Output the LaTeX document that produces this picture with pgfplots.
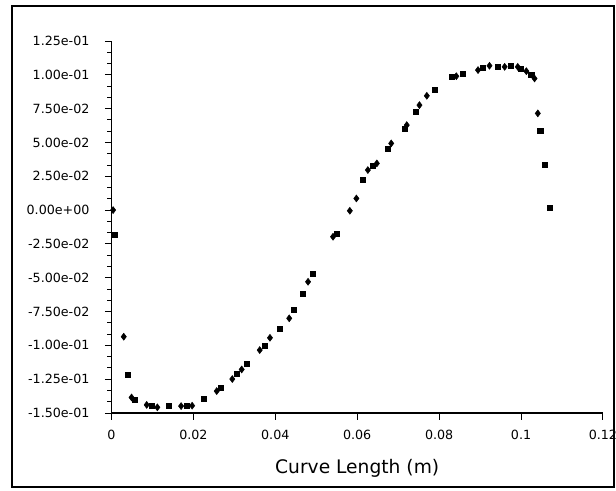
\documentclass[border=0pt]{standalone}
\usepackage{fontspec}
\setmainfont{DejaVu Sans}
\usepackage{pgfplots}
\pgfplotsset{compat=1.18}

% diamond markers
\pgfplotstableread{
x y
0.0004 0.0000
0.0030 -0.0936
0.0049 -0.1385
0.0086 -0.1440
0.0112 -0.1458
0.0170 -0.1449
0.0197 -0.1446
0.0257 -0.1338
0.0295 -0.1249
0.0318 -0.1178
0.0362 -0.1035
0.0387 -0.0944
0.0434 -0.0800
0.0480 -0.0530
0.0541 -0.0197
0.0582 -0.0005
0.0598 0.0086
0.0626 0.0296
0.0648 0.0345
0.0683 0.0493
0.0721 0.0628
0.0752 0.0776
0.0770 0.0845
0.0842 0.0990
0.0895 0.1035
0.0923 0.1067
0.0960 0.1059
0.0992 0.1059
0.1013 0.1027
0.1033 0.0973
0.1041 0.0715
}\diamonds

% square markers
\pgfplotstableread{
x y
0.0009 -0.0180
0.0040 -0.1220
0.0056 -0.1400
0.0098 -0.1449
0.0141 -0.1449
0.0183 -0.1449
0.0226 -0.1394
0.0267 -0.1310
0.0305 -0.1207
0.0330 -0.1133
0.0374 -0.1005
0.0411 -0.0874
0.0446 -0.0739
0.0468 -0.0616
0.0492 -0.0473
0.0549 -0.0172
0.0614 0.0222
0.0639 0.0325
0.0675 0.0456
0.0716 0.0604
0.0744 0.0727
0.0789 0.0892
0.0830 0.0985
0.0858 0.1005
0.0907 0.1052
0.0943 0.1059
0.0976 0.1067
0.1000 0.1047
0.1025 0.0998
0.1047 0.0584
0.1057 0.0333
0.1071 0.0020
}\squares

\begin{document}
\begin{tikzpicture}
\useasboundingbox (-83.6pt,-57.75pt) rectangle (378.4pt,309.75pt);
\draw[line width=0.9pt] (-74.6pt,-55.5pt) rectangle (376.9pt,305.25pt);
\begin{axis}[
    at={(0,0)}, anchor=south west,
    scale only axis,
    width=368.6pt, height=279pt,
    xmin=0, xmax=0.12,
    ymin=-0.15, ymax=0.125,
    axis lines=left,
    axis line style={-, line width=0.8pt},
    xtick={0,0.02,0.04,0.06,0.08,0.1,0.12},
    xticklabels={0,0.02,0.04,0.06,0.08,0.1,0.12},
    ytick={-0.15,-0.125,-0.1,-0.075,-0.05,-0.025,0,0.025,0.05,0.075,0.1,0.125},
    yticklabels={-1.50e-01,-1.25e-01,-1.00e-01,-7.50e-02,-5.00e-02,-2.50e-02,0.00e+00,2.50e-02,5.00e-02,7.50e-02,1.00e-01,1.25e-01},
    minor y tick num=2,
    tick align=outside,
    major tick length=5pt,
    minor tick length=3pt,
    tick style={black, line width=0.7pt},
    ticklabel style={font=\fontsize{9.5}{11}\selectfont},
    yticklabel shift=8pt,
    xticklabel shift=4pt,
    xlabel={Curve Length (m)},
    every axis x label/.style={at={(axis description cs:0.5,0)}, anchor=center, yshift=-41.5pt, font=\fontsize{14}{16}\selectfont},
    clip=false,
]
\addplot[only marks, mark=diamond*, mark size=2.6pt, black] table[x=x, y=y] {\diamonds};
\addplot[only marks, mark=square*, mark size=1.9pt, black] table[x=x, y=y] {\squares};
\end{axis}
\end{tikzpicture}
\end{document}
